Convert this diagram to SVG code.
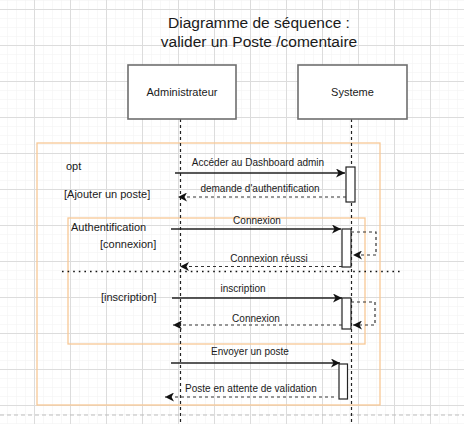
<svg xmlns="http://www.w3.org/2000/svg" width="464" height="424" viewBox="0 0 464 424">
<style>
.t{font-family:"Liberation Sans",Arial,sans-serif;fill:#1a1a1a}
.msg{font-size:10px;text-anchor:middle}
.lbl{font-size:11px}
.box{fill:#fff;stroke:#6e6e6e;stroke-width:1.6}
.life{stroke:#222;stroke-width:1.2;stroke-dasharray:3 3;fill:none}
.act{fill:#fff;stroke:#222;stroke-width:1.2}
.frame{fill:none;stroke:#f7c896;stroke-width:1.3}
.call{stroke:#222;stroke-width:1.3;fill:none}
.ret{stroke:#333;stroke-width:1.2;stroke-dasharray:3 3;fill:none}
</style>
<defs>
<pattern id="minor" patternUnits="userSpaceOnUse" x="34" y="9" width="9" height="9">
<path d="M0,0 V9 M0,0 H9" stroke="#f1f1f1" stroke-width="1" fill="none"/>
</pattern>
<pattern id="major" patternUnits="userSpaceOnUse" x="34" y="9" width="36" height="36">
<path d="M0.5,0 V36 M0,0.5 H36" stroke="#dcdcdc" stroke-width="1" fill="none"/>
</pattern>
<marker id="arr" markerUnits="userSpaceOnUse" markerWidth="10" markerHeight="9" refX="9" refY="4.5" orient="auto">
<path d="M0,0 L9,4.5 L0,9 L2.5,4.5 z" fill="#111"/>
</marker>
</defs>
<rect width="464" height="424" fill="#fff"/>
<rect width="464" height="424" fill="url(#minor)"/>
<rect width="464" height="424" fill="url(#major)"/>
<line x1="0" y1="415" x2="464" y2="415" stroke="#bdbdbd" stroke-width="1" stroke-dasharray="4 3"/>

<g id="title">
<text class="t" x="259" y="28" font-size="15.5" text-anchor="middle">Diagramme de séquence :</text>
<text class="t" x="259" y="47" font-size="15.5" text-anchor="middle">valider un Poste /comentaire</text>
</g>

<g id="frame-opt">
<rect class="frame" x="37" y="143" width="343" height="262"/>
<text class="t lbl" x="66" y="170">opt</text>
<text class="t lbl" x="64" y="198">[Ajouter un poste]</text>
</g>
<g id="frame-auth">
<rect class="frame" x="68" y="218" width="297" height="126"/>
<text class="t lbl" x="71" y="231">Authentification</text>
<text class="t lbl" x="100" y="248">[connexion]</text>
<text class="t lbl" x="101" y="301">[inscription]</text>
</g>

<g id="administrateur">
<line class="life" x1="180.5" y1="119" x2="180.5" y2="424"/>
<rect class="box" x="128" y="65" width="108" height="54"/>
<text class="t" x="182" y="96" font-size="11" text-anchor="middle">Administrateur</text>
</g>
<g id="systeme">
<line class="life" x1="351.5" y1="119" x2="351.5" y2="424"/>
<rect class="box" x="298" y="65" width="109" height="54"/>
<text class="t" x="352.5" y="96" font-size="11" text-anchor="middle">Systeme</text>
</g>

<g id="separator">
<line x1="62" y1="271.5" x2="403" y2="271.5" stroke="#111" stroke-width="1.6" stroke-dasharray="1.6 4"/>
</g>

<g id="activations">
<rect class="act" x="346" y="167" width="9" height="35"/>
<rect class="act" x="342" y="229" width="9" height="38"/>
<rect class="act" x="342" y="298" width="9" height="31"/>
<rect class="act" x="339" y="364" width="8.5" height="35"/>
</g>

<g id="connectors">
<line class="call" x1="175" y1="173" x2="345" y2="173" marker-end="url(#arr)"/>
<text class="t msg" x="258" y="166">Accéder au Dashboard admin</text>
<line class="ret" x1="346" y1="197" x2="178" y2="197" marker-end="url(#arr)"/>
<text class="t msg" x="260" y="192">demande d'authentification</text>

<line class="call" x1="171" y1="229" x2="341" y2="229" marker-end="url(#arr)"/>
<text class="t msg" x="257" y="224">Connexion</text>
<path class="ret" d="M351,232 H376 V255 H353" marker-end="url(#arr)"/>
<line class="ret" x1="342" y1="266.5" x2="180" y2="266.5" marker-end="url(#arr)"/>
<text class="t msg" x="269" y="262">Connexion réussi</text>

<line class="call" x1="172" y1="298" x2="342" y2="298" marker-end="url(#arr)"/>
<text class="t msg" x="243" y="292">inscription</text>
<path class="ret" d="M351,302 H375 V325 H353" marker-end="url(#arr)"/>
<line class="ret" x1="342" y1="325" x2="173" y2="325" marker-end="url(#arr)"/>
<text class="t msg" x="256" y="322">Connexion</text>

<line class="call" x1="171" y1="363" x2="340" y2="363" marker-end="url(#arr)"/>
<text class="t msg" x="250" y="355">Envoyer un poste</text>
<line class="ret" x1="334" y1="397" x2="165" y2="397" marker-end="url(#arr)"/>
<text class="t msg" x="251" y="392">Poste en attente de validation</text>
</g>
</svg>
